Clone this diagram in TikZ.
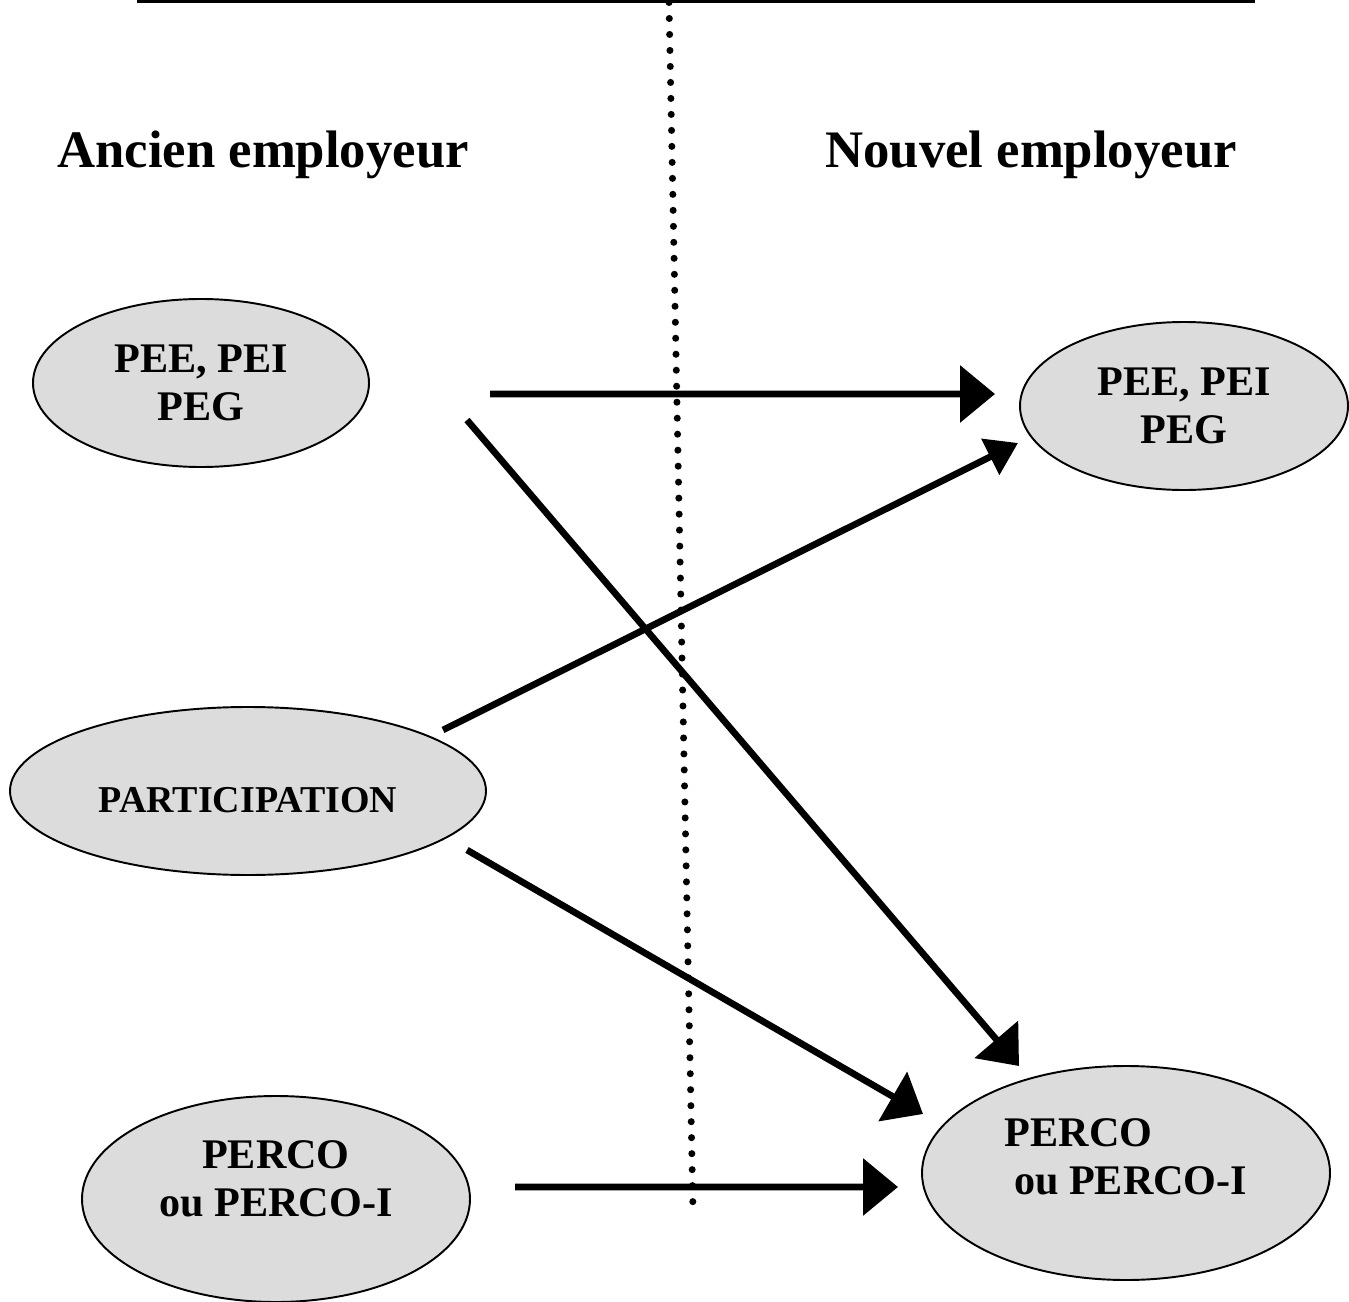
\documentclass[tikz,border=0pt]{standalone}
\usepackage{fontspec}
\setmainfont{Liberation Serif}
\usetikzlibrary{arrows.meta,calc,shapes.geometric}

\definecolor{plangray}{RGB}{220,220,220}
\tikzset{
  plan/.style={ellipse, draw, line width=1.1pt, fill=plangray, inner sep=0pt, outer sep=0pt},
  plantext/.style={align=center, inner sep=0pt, font=\fontsize{24}{27.3}\selectfont\bfseries},
  flow/.style={line width=3.8pt, -{Triangle[length=0.7cm,width=1.12cm]}},
  side/.style={anchor=base, inner sep=0pt, font=\fontsize{30}{36}\selectfont\bfseries},
}

\begin{document}
\begin{tikzpicture}
    \useasboundingbox (0,0) rectangle (26.98,-26.04);

    % Top rule and divider
    \coordinate (ruleL) at (2.74,0);
    \coordinate (ruleR) at (25.1,0);
    \draw[line width=3.4pt] (ruleL) -- (ruleR);
    \coordinate (divtop) at (13.38,-0.05);
    \coordinate (divbot) at (13.86,-24.22);
    \draw[line width=4pt, line cap=round, dash pattern=on 0pt off 9.1pt] (divtop) -- (divbot);

    % Headings
    \node[side] (old) at (5.26,-3.36) {Ancien employeur};
    \node[side] (new) at (20.62,-3.36) {Nouvel employeur};

    % Plans
    \node[plan, minimum width=6.72cm, minimum height=3.36cm] (oldpee) at (4.02,-7.66) {};
    \node[plantext] (oldpeetext) at (oldpee) {PEE, PEI\\PEG};
    \node[plan, minimum width=6.56cm, minimum height=3.36cm] (newpee) at (23.68,-8.12) {};
    \node[plantext] (newpeetext) at (newpee) {PEE, PEI\\PEG};
    \node[plan, minimum width=9.52cm, minimum height=3.36cm] (oldpart) at (4.96,-15.82) {};
    \node[plantext, font=\fontsize{21.6}{25}\selectfont\bfseries, yshift=-0.18cm] (oldparttext) at (oldpart) {PARTICIPATION};
    \node[plan, minimum width=7.76cm, minimum height=4.12cm] (oldperco) at (5.52,-23.98) {};
    \node[plantext, yshift=0.4cm] (oldpercotext) at (oldperco) {PERCO\\ou PERCO-I};
    \node[plan, minimum width=8.16cm, minimum height=4.28cm] (newperco) at (22.52,-23.46) {};
    \node[plantext, align=left, yshift=0.32cm] (newpercotext) at (newperco) {PERCO\\\hspace{0.22em}ou PERCO-I};

    % Transfers
    \draw[flow] ($(oldpee)+(5.78,-0.22)$) -- ($(newpee)+(-3.78,0.24)$);
    \draw[flow] ($(oldpee)+(5.32,-0.74)$) -- ($(newperco)+(-2.14,2.14)$);
    \draw[flow, -{Triangle[length=0.62cm,width=0.78cm]}] ($(oldpart)+(3.9,1.22)$) -- ($(newpee)+(-3.32,-0.74)$);
    \draw[flow] ($(oldpart)+(4.38,-1.18)$) -- ($(newperco)+(-4.06,1.18)$);
    \draw[flow] ($(oldperco)+(4.78,0.24)$) -- ($(newperco)+(-4.56,-0.28)$);
\end{tikzpicture}
\end{document}
